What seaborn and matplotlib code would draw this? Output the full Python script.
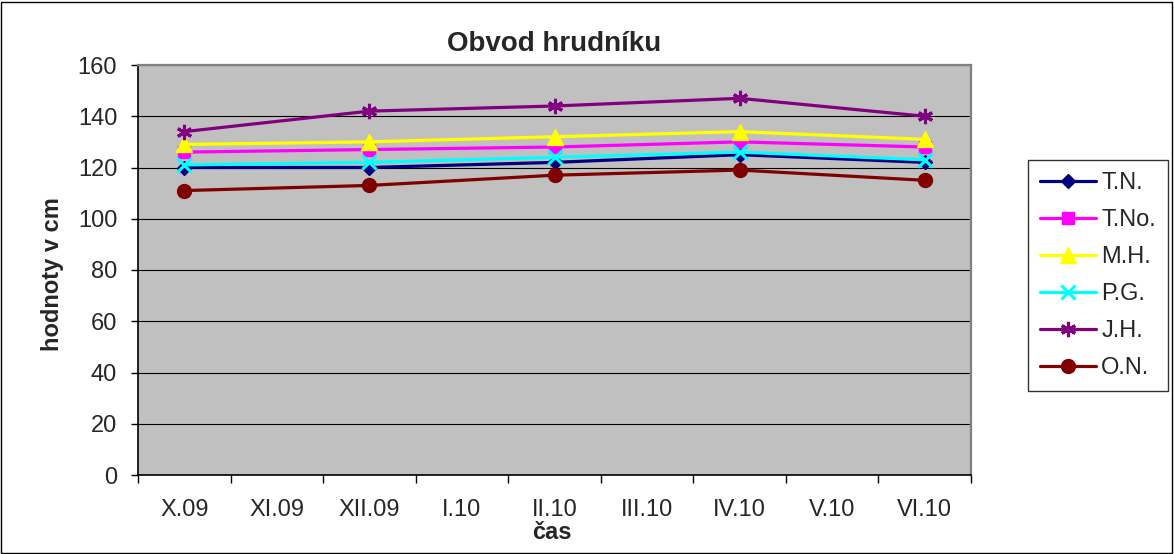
import matplotlib
matplotlib.use("Agg")
import matplotlib.pyplot as plt
import seaborn as sns
import pandas as pd
import numpy as np
from matplotlib.patches import Rectangle

categories = ["X.09", "XI.09", "XII.09", "I.10", "II.10", "III.10", "IV.10", "V.10", "VI.10"]
measured = ["X.09", "XII.09", "II.10", "IV.10", "VI.10"]
series_names = ["T.N.", "T.No.", "M.H.", "P.G.", "J.H.", "O.N."]
tn = [120, 120, 122, 125, 122]
tno = [126, 127, 128, 130, 128]
mh = [129, 130, 132, 134, 131]
pg = [121, 122, 124, 126, 123]
jh = [134, 142, 144, 147, 140]
on = [111, 113, 117, 119, 115]
values = [tn, tno, mh, pg, jh, on]

colors = ["#000080", "#FF00FF", "#FFFF00", "#00FFFF", "#800080", "#800000"]
markers = ["D", "s", "^", "x", (6, 2, 0), "o"]
msizes = [7.1, 8.6, 12, 10, 11, 10]

sns.set_theme(style="white")
plt.rcParams['font.family'] = ['Liberation Sans', 'DejaVu Sans']

W, H = 1174, 554
fig = plt.figure(figsize=(W / 100, H / 100), dpi=100)
L, R, T, B = 138, 971, 65, 475
ax = fig.add_axes([L / W, 1 - B / H, (R - L) / W, (B - T) / H])
ax.set_facecolor("#C0C0C0")

rows = []
for name, vals in zip(series_names, values):
    for c, v in zip(measured, vals):
        rows.append({"x": categories.index(c), "y": v, "series": name})
df = pd.DataFrame(rows)

for name, col, mk, ms in zip(series_names, colors, markers, msizes):
    sub = df[df["series"] == name]
    mew = 2.2 if mk in ("x", (6, 2, 0)) else 1
    sns.lineplot(data=sub, x="x", y="y", ax=ax, color=col, marker=mk, markersize=ms,
                 linewidth=2.3, markeredgecolor=col, markeredgewidth=mew, label=name,
                 estimator=None, sort=False)

ax.set_xlim(-0.5, 8.5)
ax.set_ylim(0, 160)
ax.set_yticks(np.arange(0, 161, 20))
ax.yaxis.grid(True, color="black", linewidth=0.8)
ax.set_axisbelow(True)
ax.set_xticks(np.arange(-0.5, 8.6, 1))
ax.set_xticklabels([])
ax.set_xticks(np.arange(0, 9), minor=True)
ax.set_xticklabels(categories, minor=True)
ax.tick_params(axis="x", which="minor", length=0, pad=17, labelsize=17)
ax.tick_params(axis="x", which="major", length=6, width=1, color="black", direction="out", bottom=True)
ax.tick_params(axis="y", length=5, width=1, color="black", direction="out", left=True, labelsize=17, pad=10)
for s in ["left", "bottom"]:
    ax.spines[s].set_color("black")
    ax.spines[s].set_linewidth(1.2)
for s in ["top", "right"]:
    ax.spines[s].set_color("#808080")
    ax.spines[s].set_linewidth(1.6)

ax.set_title("Obvod hrudníku", fontsize=20, fontweight="bold", pad=10)
ax.set_ylabel("hodnoty v cm", fontsize=17, fontweight="bold")
ax.yaxis.set_label_coords((64 - L) / (R - L), 0.49)
ax.set_xlabel("čas", fontsize=17, fontweight="bold")
ax.xaxis.set_label_coords(0.497, -(521 - B) / (B - T))

leg = ax.legend(loc="upper left", bbox_to_anchor=(1028 / W, 1 - 160 / H), bbox_transform=fig.transFigure,
                frameon=True, fontsize=17, handlelength=2.4, labelspacing=0.64, borderpad=0.5,
                handletextpad=0.2, fancybox=False, borderaxespad=0)
leg.get_frame().set_edgecolor("black")
leg.get_frame().set_linewidth(1)
leg.get_frame().set_facecolor("white")

fig.patches.append(Rectangle((1 / W, 1 / H), 1 - 3 / W, 1 - 3 / H, transform=fig.transFigure,
                             fill=False, edgecolor="black", linewidth=1))

fig.savefig("out.png", dpi=100)
